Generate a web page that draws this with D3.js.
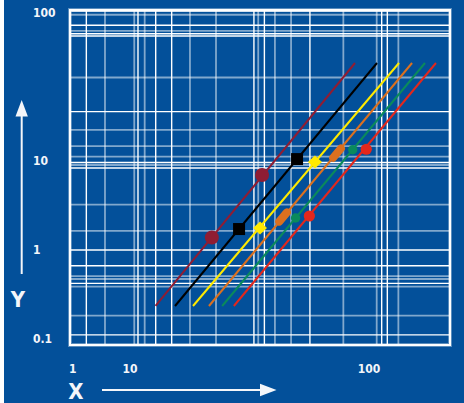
<html>
    <head>
        <title>Log-log lines</title>
        <script src="https://cdn.jsdelivr.net/npm/d3@7"></script>
        <style>
            body { margin: 0; background: #ffffff; }
            svg { display: block; }
            text { font-family: "Liberation Sans Narrow", "DejaVu Sans Condensed", "Roboto", sans-serif; font-weight: bold; fill: #f4f6fa; }
        </style>
    </head>
    <body>
        <div id="chart"></div>
    <script>
        // tick labels
        var xTicks = [1, 10, 100];
        var yTicks = [0.1, 1, 10, 100];

        // grid lines (data units), solid ones and faint ones
        var xGridSolid = [1.73, 10.8, 12.81, 14.94, 33.0, 36.5, 56.6, 113.0, 119.3];
        var xGridFaint = [3.66, 10.42, 11.52, 17.82, 22.9, 34.4, 40.4, 47.2, 78.1, 107.7, 132.7];
        var yGridSolid = [102.3, 82.0, 72.0, 69.5, 21.5, 9.62, 8.34, 1.0, 0.665, 0.42, 0.11];
        var yGridFaint = [96.6, 75.1, 36.5, 16.2, 12.6, 10.7, 9.02, 3.24, 1.64, 0.508, 0.47, 0.385, 0.181];

        // the six series: line start/end and the two marked points
        var names   = ["a", "b", "c", "d", "e", "f"];
        var colors  = ["#8f1d33", "#000000", "#ffea00", "#db701f", "#0a8a5c", "#e3271c"];
        var shapes  = ["circle", "square", "diamond", "bar", "dot", "circle2"];
        var lineX0  = [12.79, 15.43, 18.35, 21.4, 24.3, 27.2];
        var lineX1  = [87.4, 108.0, 133.5, 151.4, 171.5, 190.6];
        var lineY0  = [0.233, 0.233, 0.233, 0.233, 0.233, 0.233];
        var lineY1  = [45.7, 45.7, 45.7, 45.7, 45.7, 45.7];
        var ptX     = [[22.0, 35.7], [28.6, 50.0], [35.0, 59.4], [43.7, 73.5], [49.3, 85.5], [56.3, 97.4]];
        var ptY     = [[1.38, 6.96], [1.72, 10.3], [1.77, 9.75], [2.35, 11.3], [2.29, 11.9], [2.41, 12.0]];

        var W = 464, H = 403;
        var plot = {left: 70, right: 450, top: 10, bottom: 345};

        var svg = d3.select("#chart")
          .append("svg")
            .attr("width", W)
            .attr("height", H);

        svg.append("rect").attr("width", W).attr("height", H).attr("fill", "#ffffff");
        svg.append("rect").attr("x", 4).attr("width", W - 4).attr("height", H).attr("fill", "#03509a");

        // piecewise log scales, the decades on this paper are not equal
        var x = d3.scaleLog()
          .domain([1, 10, 100])
          .range([72.7, 130, 369]);
        var y = d3.scaleLog()
          .domain([0.1, 1, 10, 100])
          .range([338.5, 250, 161, 12.5]);

        var grid = svg.append("g");

        grid.selectAll(".xf").data(xGridFaint).enter().append("line")
          .attr("x1", function(d) { return x(d); }).attr("x2", function(d) { return x(d); })
          .attr("y1", plot.top).attr("y2", plot.bottom)
          .style("stroke", "#ffffff").style("stroke-opacity", 0.5).style("stroke-width", 1.8);
        grid.selectAll(".yf").data(yGridFaint).enter().append("line")
          .attr("y1", function(d) { return y(d); }).attr("y2", function(d) { return y(d); })
          .attr("x1", plot.left).attr("x2", plot.right)
          .style("stroke", "#ffffff").style("stroke-opacity", 0.5).style("stroke-width", 1.8);
        grid.selectAll(".xs").data(xGridSolid).enter().append("line")
          .attr("x1", function(d) { return x(d); }).attr("x2", function(d) { return x(d); })
          .attr("y1", plot.top).attr("y2", plot.bottom)
          .style("stroke", "#ffffff").style("stroke-width", 1.4);
        grid.selectAll(".ys").data(yGridSolid).enter().append("line")
          .attr("y1", function(d) { return y(d); }).attr("y2", function(d) { return y(d); })
          .attr("x1", plot.left).attr("x2", plot.right)
          .style("stroke", "#ffffff").style("stroke-width", 1.4);

        // frame
        svg.append("rect")
          .attr("x", plot.left).attr("y", plot.top)
          .attr("width", plot.right - plot.left).attr("height", plot.bottom - plot.top)
          .attr("fill", "none").style("stroke", "#ffffff").style("stroke-opacity", 0.35).style("stroke-width", 4);
        svg.append("rect")
          .attr("x", plot.left).attr("y", plot.top)
          .attr("width", plot.right - plot.left).attr("height", plot.bottom - plot.top)
          .attr("fill", "none").style("stroke", "#ffffff").style("stroke-width", 2);

        // series lines
        var series = names.map(function(n, i) {
            return {name: n, color: colors[i], shape: shapes[i],
                    line: [[lineX0[i], lineY0[i]], [lineX1[i], lineY1[i]]],
                    pts: [[ptX[i][0], ptY[i][0]], [ptX[i][1], ptY[i][1]]]};
        });

        var line = d3.line()
          .x(function(d) { return x(d[0]); })
          .y(function(d) { return y(d[1]); });

        svg.selectAll(".series").data(series).enter().append("path")
          .attr("d", function(d) { return line(d.line); })
          .style("fill", "none")
          .style("stroke", function(d) { return d.color; })
          .style("stroke-width", 2);

        // markers
        series.forEach(function(s) {
            var ang = Math.atan2(y(s.line[1][1]) - y(s.line[0][1]), x(s.line[1][0]) - x(s.line[0][0])) * 180 / Math.PI;
            var g = svg.append("g");
            s.pts.forEach(function(p) {
                var cx = x(p[0]), cy = y(p[1]);
                if (s.shape == "circle") {
                    g.append("circle").attr("cx", cx).attr("cy", cy).attr("r", 7).attr("fill", s.color);
                } else if (s.shape == "circle2") {
                    g.append("circle").attr("cx", cx).attr("cy", cy).attr("r", 5.6).attr("fill", s.color);
                } else if (s.shape == "dot") {
                    g.append("circle").attr("cx", cx).attr("cy", cy).attr("r", 4.7).attr("fill", s.color);
                } else if (s.shape == "square") {
                    g.append("rect").attr("x", cx - 6).attr("y", cy - 6).attr("width", 12).attr("height", 12).attr("fill", s.color);
                } else if (s.shape == "diamond") {
                    g.append("path")
                      .attr("d", "M" + (cx - 7) + "," + cy + "L" + cx + "," + (cy - 6.5) + "L" + (cx + 7) + "," + cy + "L" + cx + "," + (cy + 6.5) + "Z")
                      .attr("fill", s.color);
                } else if (s.shape == "bar") {
                    g.append("line")
                      .attr("x1", -6).attr("x2", 6).attr("y1", 0).attr("y2", 0)
                      .attr("transform", "translate(" + cx + "," + cy + ") rotate(" + ang + ")")
                      .style("stroke", s.color).style("stroke-width", 8).style("stroke-linecap", "round");
                }
            });
        });

        // tick labels
        svg.selectAll(".ylab").data(yTicks).enter().append("text")
          .attr("x", 33)
          .attr("y", function(d) { return y(d); })
          .attr("dy", "0.36em")
          .style("font-size", "12px")
          .text(function(d) { return d; });

        svg.selectAll(".xlab").data(xTicks).enter().append("text")
          .attr("x", function(d) { return x(d); })
          .attr("y", 369)
          .attr("dy", "0.36em")
          .style("text-anchor", "middle")
          .style("font-size", "12px")
          .text(function(d) { return d; });

        // axis names and arrows
        svg.append("text").attr("x", 18).attr("y", 299).attr("dy", "0.36em")
          .style("text-anchor", "middle").style("font-size", "22px").text("Y");
        svg.append("text").attr("x", 76).attr("y", 391).attr("dy", "0.36em")
          .style("text-anchor", "middle").style("font-size", "22px").text("X");

        svg.append("line").attr("x1", 21.7).attr("x2", 21.7).attr("y1", 274).attr("y2", 112)
          .style("stroke", "#f4f6fa").style("stroke-width", 2);
        svg.append("path").attr("d", "M21.7,100L15.5,116.5L27.9,116.5Z").attr("fill", "#f4f6fa");

        svg.append("line").attr("x1", 102).attr("x2", 264).attr("y1", 390).attr("y2", 390)
          .style("stroke", "#f4f6fa").style("stroke-width", 2);
        svg.append("path").attr("d", "M276.5,390L260,383.8L260,396.2Z").attr("fill", "#f4f6fa");
    </script>
    </body>
</html>
